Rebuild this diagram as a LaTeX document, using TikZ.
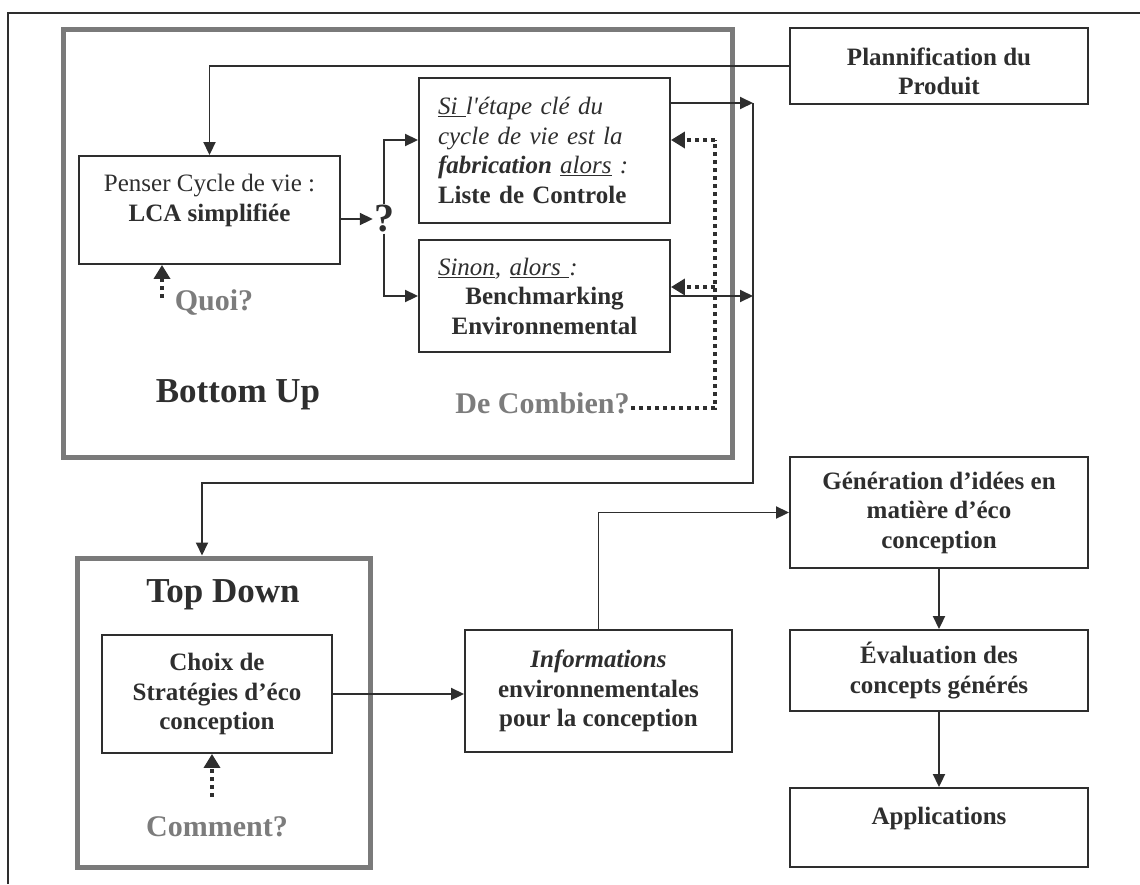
\documentclass[tikz,border=0pt]{standalone}
\usepackage{fontspec}
\setmainfont{Liberation Serif}
\usetikzlibrary{arrows.meta}
\definecolor{ink}{HTML}{2E2E2E}
\definecolor{greyframe}{HTML}{7A7A7A}
\definecolor{greytxt}{HTML}{7C7C7C}
\begin{document}
\begin{tikzpicture}[x=1pt,y=-1pt,
  box/.style={draw=ink, line width=1.9pt, inner sep=0pt, align=center, text=ink,
    font=\fontsize{25}{29.5}\selectfont},
  gbox/.style={draw=greyframe, line width=5pt, inner sep=0pt},
  bigtitle/.style={text=ink, inner sep=1pt, font=\fontsize{35}{40}\selectfont\bfseries},
  greylabel/.style={text=greytxt, inner sep=1pt, font=\fontsize{30}{34}\selectfont\bfseries},
  conn/.style={draw=ink, line width=1.9pt},
  arr/.style={conn, -{Triangle[length=13pt,width=12pt]}},
  dotarr/.style={draw=ink, line width=4.5pt, dash pattern=on 4.5pt off 3.5pt,
    -{Triangle[length=14pt,width=16pt]}},
  dotline/.style={draw=ink, line width=4.5pt, dash pattern=on 4.5pt off 3.5pt}]
\useasboundingbox (0,0) rectangle (1140,884);
% outer frame
\draw[draw=ink, line width=1.6pt] (8,884) -- (8,13) -- (1140,13);
% grey group frames
\node[gbox, minimum width=669pt, minimum height=428pt] (bu) at (397.5,243) {};
\node[gbox, minimum width=293pt, minimum height=309pt] (td) at (223.5,712.5) {};
% boxes
\node[box, minimum width=298pt, minimum height=76pt] (plan) at (939,66)
  {\textbf{\rule{0pt}{28.5pt}Plannification du}\\\textbf{Produit}};
\node[box, minimum width=261pt, minimum height=108pt] (lca) at (209.5,210)
  {Penser Cycle de vie :\\\textbf{LCA simplifiée}\rule[-24pt]{0pt}{24pt}};
\node[box, minimum width=251pt, minimum height=145pt, text width=213pt, align=left] (si) at (544.5,150.5)
  {\underline{\textit{Si }}\textit{l\textquotesingle étape clé du}\\
   \textit{cycle de vie est la}\\
   \textbf{\textit{fabrication}} \underline{\textit{alors}} \textit{:}\\
   \textbf{Liste de Controle}};
\node[box, minimum width=251pt, minimum height=112pt, text width=213pt, align=center] (sinon) at (544.5,296)
  {\makebox[213pt][l]{\underline{\textit{Sinon}}\textit{, }\underline{\textit{alors }}\textit{:}}\\
   \textbf{Benchmarking}\\\textbf{Environnemental}};
\node[box, minimum width=230pt, minimum height=118pt] (choix) at (217,694)
  {\textbf{Choix de}\\\textbf{Stratégies d’éco}\\\textbf{conception}};
\node[box, minimum width=267pt, minimum height=122pt] (info) at (598.5,691)
  {\textbf{\textit{Informations}}\\\textbf{environnementales}\\\textbf{pour la conception}};
\node[box, minimum width=298pt, minimum height=111pt] (gen) at (939,512.5)
  {\textbf{Génération d’idées en}\\\textbf{matière d’éco}\\\textbf{conception}};
\node[box, minimum width=298pt, minimum height=81pt] (eval) at (939,670.5)
  {\textbf{\rule{0pt}{21pt}Évaluation des}\\\textbf{concepts générés}};
\node[box, minimum width=298pt, minimum height=79pt] (app) at (939,827.5)
  {\textbf{Applications}\rule[-23pt]{0pt}{23pt}};
% labels
\node[bigtitle] (bul) at (238,395) {Bottom Up};
\node[bigtitle] (tdl) at (223,595) {Top Down};
\node[greylabel] (quoi) at (214,303) {Quoi?};
\node[greylabel] (comb) at (542.5,403) {De Combien?};
\node[greylabel] (comm) at (217,827) {Comment?};
\node[text=ink, inner sep=1pt, font=\fontsize{40}{44}\selectfont\bfseries] (q) at (384,219) {?};
% coordinates
\coordinate (rtop) at (753,103);
\coordinate (rbot) at (753,483);
\coordinate (tdin) at ([xshift=-21.5pt]td.north);
\coordinate (dc) at (715,408);
\coordinate (dm) at (715,287);
\coordinate (dt) at (715,140);
\coordinate (qa) at (162,298);
\coordinate (ca) at (212,797);
% solid connectors
\draw[arr] (plan.west) -| (lca.north);
\draw[arr] (lca.east |- q) -- (q.west);
\draw[arr] (q.north) |- (si.west |- dt);
\draw[arr] (q.south) |- (sinon.west);
\draw[arr] (si.east |- rtop) -- (rtop);
\draw[arr] (sinon.east) -- (sinon.east -| rtop);
\draw[arr] (rtop) -- (rbot) -| (tdin);
\draw[arr] (choix.east) -- (choix.east -| info.west);
\draw[arr] (info.north) |- (gen.west);
\draw[arr] (gen.south) -- (eval.north);
\draw[arr] (eval.south) -- (app.north);
% dotted connectors
\draw[dotline] (comb.east |- dc) -- (dc) -- (dt);
\draw[dotarr] (dt) -- (si.east |- dt);
\draw[dotarr] (dm) -- (sinon.east |- dm);
\draw[dotarr] (qa) -- (qa |- lca.south);
\draw[dotarr] (ca) -- (ca |- choix.south);
\end{tikzpicture}
\end{document}
